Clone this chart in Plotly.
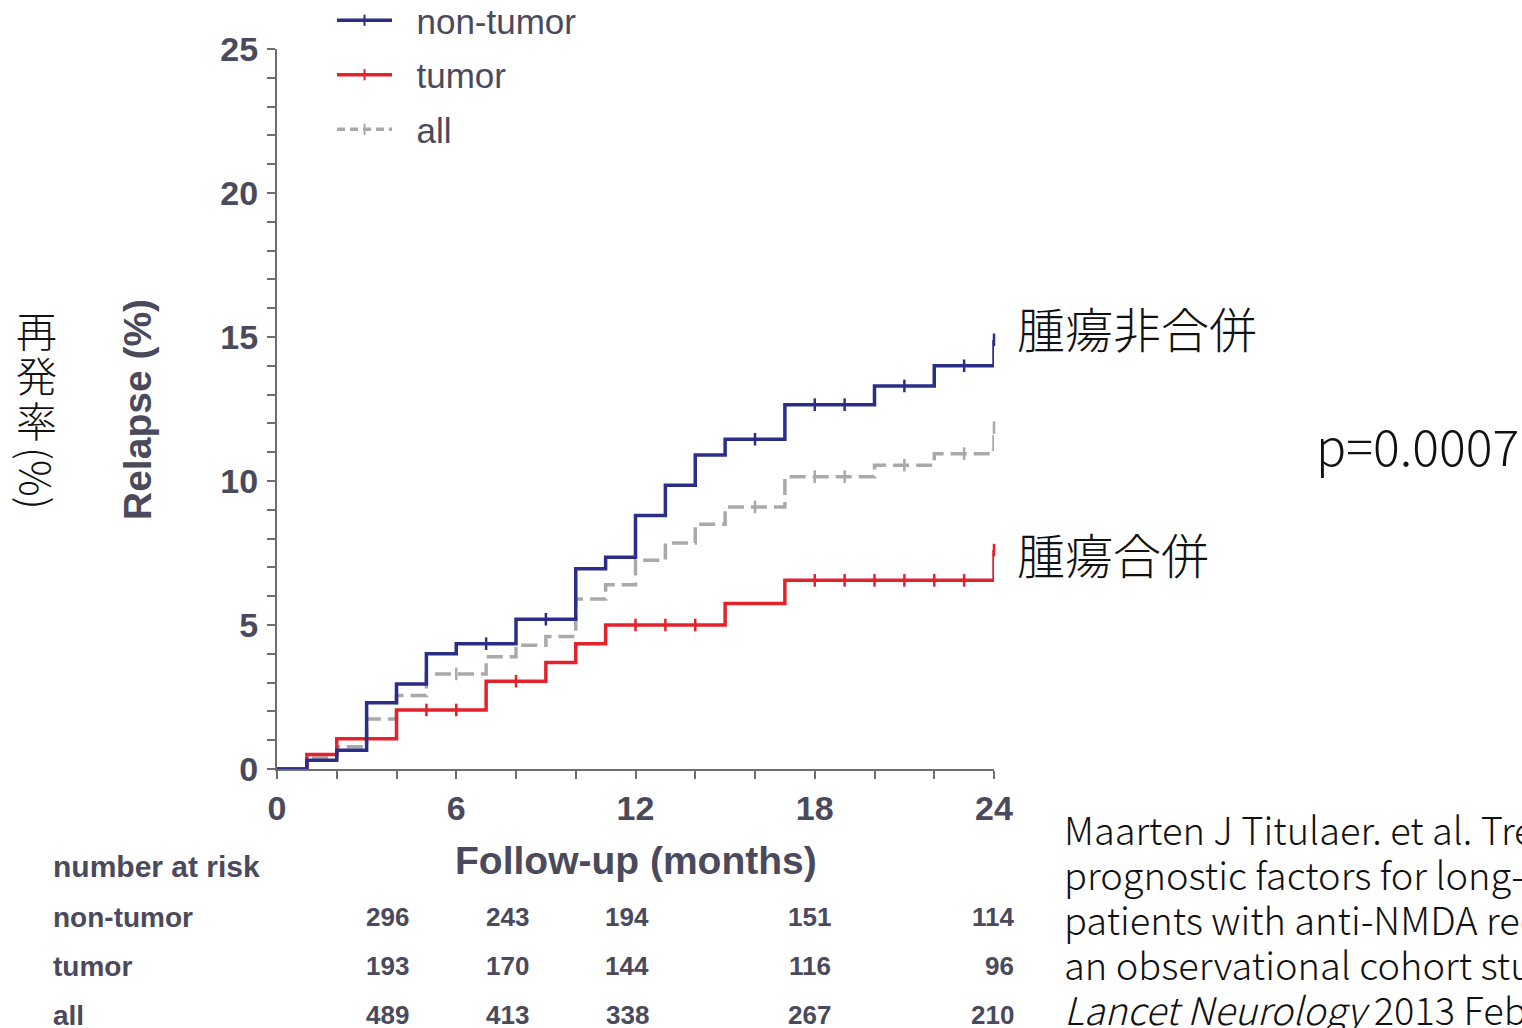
import plotly.graph_objects as go
import numpy as np

# ---------------- data ----------------
nontumor_t = [0, 1, 2, 3, 4, 5, 6, 8, 10, 11, 12, 13, 14, 15, 17, 20, 22, 24]
nontumor_v = [0, 0.3, 0.65, 2.3, 2.95, 4.0, 4.35, 5.2, 6.95, 7.35, 8.8, 9.85, 10.9, 11.45, 12.65, 13.3, 14.0, 14.9]
nontumor_censor_t = [7, 9, 16, 18, 19, 21, 23, 24]

tumor_t = [0, 1, 2, 4, 7, 9, 10, 11, 15, 17, 24]
tumor_v = [0, 0.5, 1.05, 2.05, 3.05, 3.7, 4.35, 5.0, 5.75, 6.55, 7.6]
tumor_censor_t = [5, 6, 8, 12, 13, 14, 18, 19, 20, 21, 22, 23, 24]

all_t = [0, 1, 2, 3, 4, 5, 7, 8, 9, 10, 11, 12, 13, 14, 15, 17, 20, 22, 24]
all_v = [0, 0.38, 0.77, 1.74, 2.55, 3.3, 3.9, 4.3, 4.6, 5.9, 6.4, 7.25, 7.85, 8.5, 9.1, 10.15, 10.55, 10.95, 11.85]
all_censor_t = [6, 16, 18, 19, 21, 23, 24]

series_names = ["non-tumor", "tumor", "all"]

risk_label = "number at risk"
risk_nontumor = [296, 243, 194, 151, 114]
risk_tumor = [193, 170, 144, 116, 96]
risk_all = [489, 413, 338, 267, 210]

x_title = "Follow-up (months)"
y_title = "Relapse (%)"
jp_y_title_chars = ["再", "発", "率"]
jp_y_title_unit = "(%)"
label_nontumor_jp = "腫瘍非合併"
label_tumor_jp = "腫瘍合併"
p_value_text = "p=0.0007"
citation_lines = [
    "Maarten J Titulaer. et al. Treatment and",
    "prognostic factors for long-term outcome in",
    "patients with anti-NMDA receptor encephalitis:",
    "an observational cohort study.",
    "<i>Lancet Neurology</i> 2013 Feb; 12(2): 157–165",
]

# ---------------- style ----------------
W, H = 1522, 1028
L, R, T, B = 277, 994, 49, 769   # plot area in pixels
BLUE = "#2b2e86"
RED = "#e3222b"
GRAY = "#a9a9a9"
TXT = "#4a4a5c"
AX = "#6e6e6e"
SANS = "Arial, Liberation Sans, sans-serif"
NARROW = "Liberation Sans Narrow, Arial Narrow, Liberation Sans, Arial, sans-serif"
JP = "Noto Sans CJK JP, sans-serif"
NBSP = "\u00a0"


def px(x):
    return (x - L) / (R - L)


def py(y):
    return (B - y) / (B - T)


def step_value(ts, vs, t):
    idx = np.searchsorted(ts, t, side="right") - 1
    return vs[idx]


fig = go.Figure()

curves = [
    ("all", all_t, all_v, all_censor_t, GRAY, "16px,7px"),
    ("tumor", tumor_t, tumor_v, tumor_censor_t, RED, "solid"),
    ("non-tumor", nontumor_t, nontumor_v, nontumor_censor_t, BLUE, "solid"),
]
for name, ts, vs, cs, col, dash in curves:
    fig.add_trace(go.Scatter(
        x=ts, y=vs, mode="lines", line=dict(color=col, width=3.5, shape="hv", dash=dash),
        showlegend=False, hoverinfo="skip", cliponaxis=False))
    cy = [step_value(ts, vs, c) for c in cs]
    fig.add_trace(go.Scatter(
        x=cs, y=cy, mode="markers",
        marker=dict(symbol="line-ns", size=9, line=dict(color=col, width=2.5)),
        showlegend=False, hoverinfo="skip", cliponaxis=False))

# legend entries
legend_style = {"non-tumor": (BLUE, "solid"), "tumor": (RED, "solid"), "all": (GRAY, "8px,5px")}
for i, name in enumerate(series_names):
    col, dash = legend_style[name]
    fig.add_trace(go.Scatter(
        x=[None], y=[None], name=NBSP * 2 + name, mode="lines+markers",
        line=dict(color=col, width=3.5, dash=dash),
        marker=dict(symbol="line-ns", size=8, line=dict(color=col, width=2)),
        legendgroup=name, showlegend=True))

annotations = []
# axis titles
annotations.append(dict(text="<b>" + y_title + "</b>", x=137, y=410, textangle=-90,
                        font=dict(family=SANS, size=39, color=TXT)))
annotations.append(dict(text="<b>" + x_title + "</b>", x=636, y=860,
                        font=dict(family=SANS, size=39, color=TXT)))
# Japanese vertical title
jp_y = [329, 374, 419]
for ch, yy in zip(jp_y_title_chars, jp_y):
    annotations.append(dict(text=ch, x=36, y=yy, font=dict(family=JP, size=41, color="#111", weight=300)))
annotations.append(dict(text=jp_y_title_unit, x=38, y=478, textangle=90,
                        font=dict(family=JP, size=41, color="#111", weight=300)))
# group labels
annotations.append(dict(text=label_nontumor_jp, x=1015, y=327, xanchor="left",
                        font=dict(family=JP, size=48, color="#111", weight=300)))
annotations.append(dict(text=label_tumor_jp, x=1015, y=553, xanchor="left",
                        font=dict(family=JP, size=48, color="#111", weight=300)))
annotations.append(dict(text=p_value_text, x=1314, y=444, xanchor="left",
                        font=dict(family=JP, size=50, color="#111", weight=300)))
# citation
for i, line in enumerate(citation_lines):
    annotations.append(dict(text=line, x=1062, y=828 + 45 * i, xanchor="left",
                            font=dict(family=JP, size=38, color="#111", weight=300)))
# risk table
annotations.append(dict(text="<b>" + risk_label + "</b>", x=51, y=866, xanchor="left",
                        font=dict(family=NARROW, size=30, color=TXT)))
col_right = [411, 531, 651, 833, 1016]
for row, (g, vals) in enumerate(zip(series_names, [risk_nontumor, risk_tumor, risk_all])):
    yy = 917 + 49 * row
    annotations.append(dict(text="<b>" + g + "</b>", x=51, y=yy, xanchor="left",
                            font=dict(family=NARROW, size=28, color=TXT)))
    for xr, v in zip(col_right, vals):
        annotations.append(dict(text="<b>%d</b>" % v, x=xr, y=yy, xanchor="right",
                                font=dict(family=NARROW, size=26, color=TXT)))

for a in annotations:
    a["x"] = px(a["x"])
    a["y"] = py(a["y"])
    a.update(xref="paper", yref="paper", showarrow=False)
    a.setdefault("xanchor", "center")
    a.setdefault("yanchor", "middle")

fig.update_layout(
    width=W, height=H,
    margin=dict(l=L, r=W - R, t=T, b=H - B, autoexpand=False),
    paper_bgcolor="white", plot_bgcolor="white",
    annotations=annotations,
    legend=dict(x=px(332), y=py(-9), xanchor="left", yanchor="top",
                font=dict(family=SANS, size=35, color=TXT),
                itemwidth=55, tracegroupgap=6, bgcolor="rgba(0,0,0,0)"),
    xaxis=dict(range=[0, 24], tickmode="linear", tick0=0, dtick=6,
               showline=True, linecolor=AX, linewidth=2, ticks="outside",
               ticklen=8, tickwidth=2, tickcolor=AX, showgrid=False, zeroline=False,
               tickfont=dict(family=SANS, size=34, color=TXT, weight="bold"),
               ticklabelstandoff=0,
               minor=dict(dtick=2, ticks="outside", ticklen=8, tickwidth=2, tickcolor=AX, showgrid=False)),
    yaxis=dict(range=[0, 25], tickmode="linear", tick0=0, dtick=5,
               showline=True, linecolor=AX, linewidth=2, ticks="outside",
               ticklen=8, tickwidth=2, tickcolor=AX, showgrid=False, zeroline=False,
               tickfont=dict(family=SANS, size=34, color=TXT, weight="bold"),
               ticklabelstandoff=2,
               minor=dict(dtick=1, ticks="outside", ticklen=8, tickwidth=2, tickcolor=AX, showgrid=False)),
)

fig.write_html("out.html", config={"displayModeBar": False},
               post_script="document.body.style.margin='0';document.body.style.overflow='hidden';")
